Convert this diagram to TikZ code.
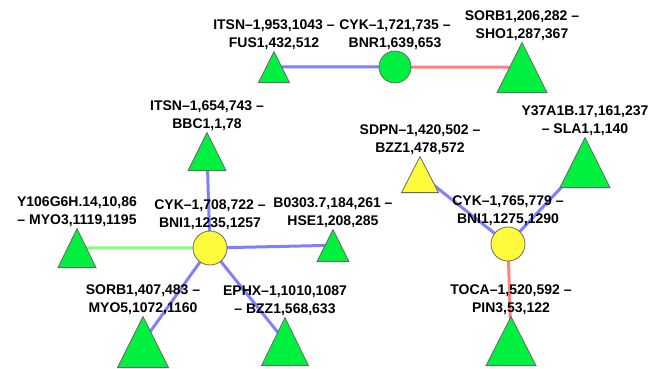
\documentclass[tikz,border=0pt]{standalone}
\usepackage{fontspec}
\setmainfont{Liberation Sans}
\usetikzlibrary{shapes.geometric, positioning, backgrounds, calc}
\definecolor{node_green}{RGB}{0, 240, 64}
\definecolor{node_yellow}{RGB}{255, 250, 60}
\definecolor{rim_gray}{RGB}{105, 105, 105}
\definecolor{edge_blue}{RGB}{128, 128, 255}
\definecolor{edge_red}{RGB}{255, 128, 128}
\definecolor{edge_green}{RGB}{128, 255, 128}
\def\mtri#1{($(#1.apex)!0.5!(#1.south)$)}

\begin{document}
\begin{tikzpicture}[
    x=1pt, y=-1pt,
    tri/.style={
        isosceles triangle,
        isosceles triangle stretches,
        shape border rotate=90,
        anchor=south,
        draw=rim_gray,
        fill=#1,
        line width=0.8pt,
        inner sep=0pt
    },
    hub/.style={
        circle,
        draw=rim_gray,
        fill=#1,
        line width=0.8pt,
        inner sep=0pt
    },
    lbl/.style={
        align=center,
        inner sep=1pt,
        font=\fontsize{14}{17.5}\selectfont\bfseries
    },
    link/.style={
        line width=3pt,
        #1
    }
]
\useasboundingbox (0,0) rectangle (648,368);

% Top pair
\node[hub=node_green, minimum size=32pt, label={[lbl]above:CYK--1,721,735 --\\BNR1,639,653}] (bnr) at (395,67) {};
\node[tri=node_green, minimum width=31pt, minimum height=31pt, label={[lbl]above:ITSN--1,953,1043 --\\FUS1,432,512}] (fus) at (274,83) {};
\node[tri=node_green, minimum width=50pt, minimum height=50pt, label={[lbl]above:SORB1,206,282 --\\SHO1,287,367}] (sho) at (522,93) {};

% Left star
\node[hub=node_yellow, minimum size=34pt, label={[lbl]above:CYK--1,708,722 --\\BNI1,1235,1257}] (bnil) at (210,248) {};
\node[tri=node_green, minimum width=38pt, minimum height=38pt, label={[lbl]above:ITSN--1,654,743 --\\BBC1,1,78}] (bbc) at (207,171) {};
\node[tri=node_green, minimum width=38pt, minimum height=39pt, label={[lbl]above:Y106G6H.14,10,86\\-- MYO3,1119,1195}] (myothree) at (77,268) {};
\node[tri=node_green, minimum width=32pt, minimum height=32pt, label={[lbl]above:B0303.7,184,261 --\\HSE1,208,285}] (hse) at (333,262) {};
\node[tri=node_green, minimum width=51pt, minimum height=51pt, label={[lbl]above:SORB1,407,483 --\\MYO5,1072,1160}] (myofive) at (143,368) {};
\node[tri=node_green, minimum width=47pt, minimum height=48pt, label={[lbl]above:EPHX--1,1010,1087\\-- BZZ1,568,633}] (bzza) at (285,366) {};

% Right star
\node[hub=node_yellow, minimum size=34pt, label={[lbl]above:CYK--1,765,779 --\\BNI1,1275,1290}] (bnir) at (508,244) {};
\node[tri=node_yellow, minimum width=37pt, minimum height=36pt, label={[lbl]above:SDPN--1,420,502 --\\BZZ1,478,572}] (bzzb) at (420,193) {};
\node[tri=node_green, minimum width=50pt, minimum height=50pt, label={[lbl]above:Y37A1B.17,161,237\\-- SLA1,1,140}] (sla) at (585,188) {};
\node[tri=node_green, minimum width=50pt, minimum height=49pt, label={[lbl]above:TOCA--1,520,592 --\\PIN3,53,122}] (pin) at (511,366) {};

% Connections, behind nodes and labels (triangles joined at their middle)
\begin{scope}[on background layer]
\draw[link=edge_blue] \mtri{fus} -- (bnr.center);
\draw[link=edge_red] (bnr.center) -- \mtri{sho};
\draw[link=edge_blue] \mtri{bbc} -- (bnil.center);
\draw[link=edge_green] \mtri{myothree} -- (bnil.center);
\draw[link=edge_blue] (bnil.center) -- \mtri{hse};
\draw[link=edge_blue] (bnil.center) -- \mtri{myofive};
\draw[link=edge_blue] (bnil.center) -- \mtri{bzza};
\draw[link=edge_blue] \mtri{bzzb} -- (bnir.center);
\draw[link=edge_blue] \mtri{sla} -- (bnir.center);
\draw[link=edge_red] (bnir.center) -- \mtri{pin};
\end{scope}

\end{tikzpicture}
\end{document}
